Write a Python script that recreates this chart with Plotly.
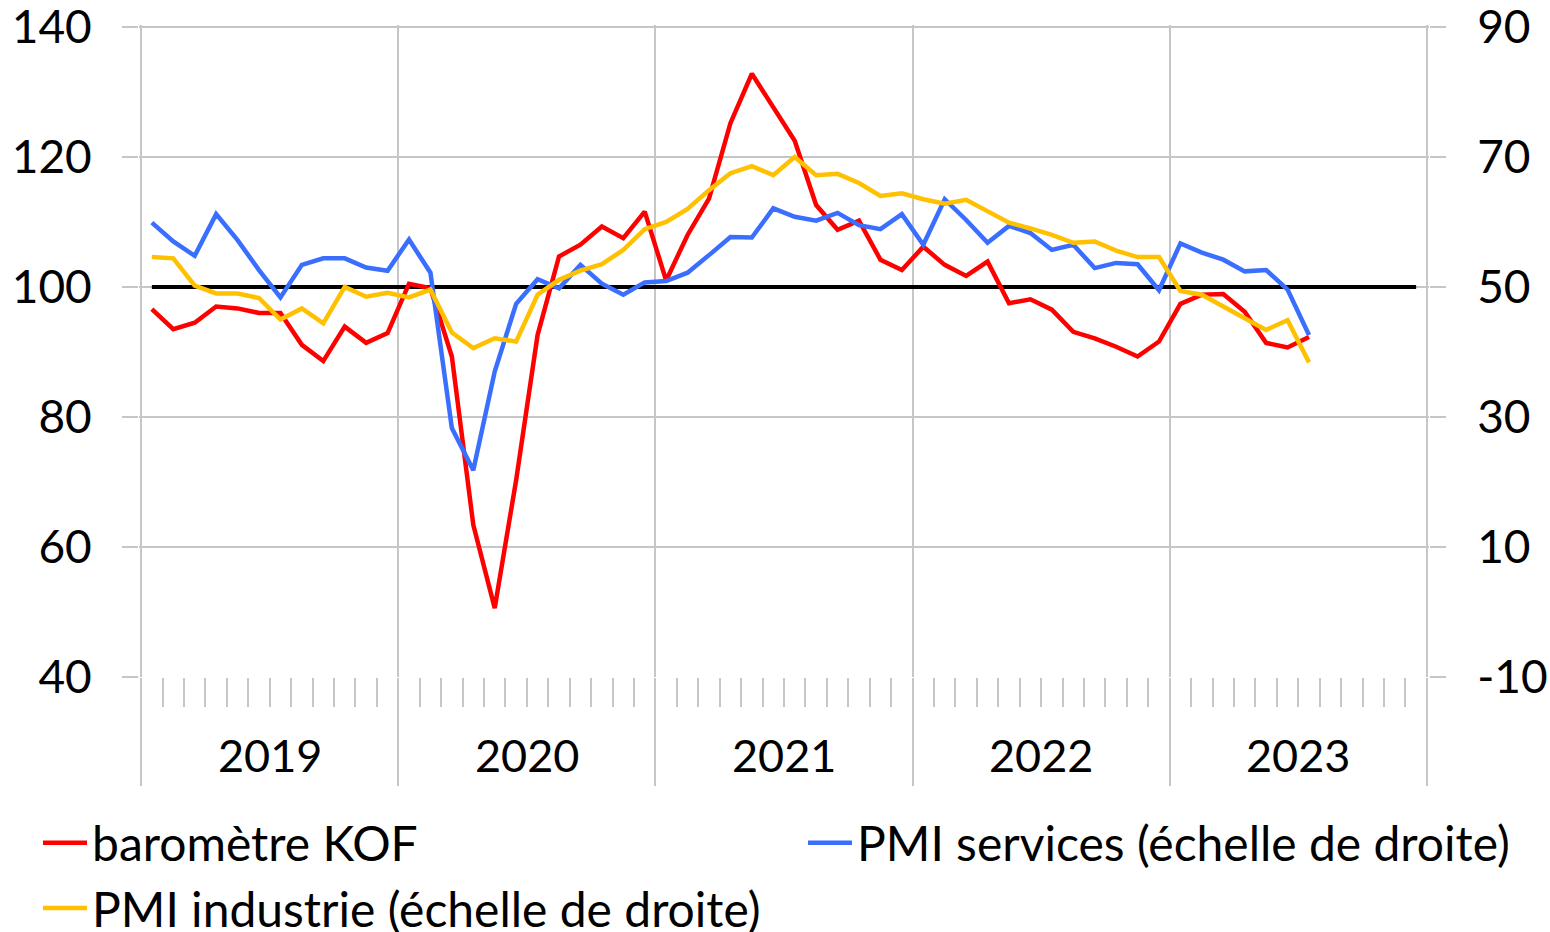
import plotly.graph_objects as go

# Monthly data, Jan 2019 .. Jul 2023
months = list(range(55))
kof = [96.6, 93.5, 94.5, 97.0, 96.7, 96.0, 96.0, 91.1, 88.6, 93.9, 91.4, 92.9,
       100.5, 99.8, 89.3, 63.4, 50.6, 70.3, 92.6, 104.7, 106.5, 109.3, 107.5, 111.6,
       101.0, 108.0, 113.6, 125.2, 132.8, 127.5, 122.5, 112.6, 108.8, 110.2, 104.2, 102.6,
       106.2, 103.4, 101.7, 103.9, 97.5, 98.1, 96.5, 93.1, 92.1, 90.8, 89.3, 91.6,
       97.4, 98.8, 98.9, 96.2, 91.4, 90.7, 92.3]
pmi_services = [59.9, 57.0, 54.8, 61.2, 57.2, 52.6, 48.4, 53.4, 54.4, 54.4, 53.0, 52.5,
                57.3, 52.2, 28.3, 21.8, 37.0, 47.4, 51.2, 49.8, 53.4, 50.5, 48.8, 50.7,
                50.9, 52.2, 54.9, 57.7, 57.6, 62.1, 60.8, 60.2, 61.4, 59.5, 58.9, 61.2,
                56.5, 63.5, 60.3, 56.8, 59.4, 58.3, 55.7, 56.5, 52.9, 53.7, 53.5, 49.5,
                56.7, 55.3, 54.2, 52.4, 52.6, 49.6, 42.6]
pmi_industrie = [54.6, 54.4, 50.2, 49.0, 49.0, 48.3, 45.0, 46.7, 44.4, 50.0, 48.5, 49.1,
                 48.4, 49.6, 43.0, 40.6, 42.1, 41.6, 48.8, 51.1, 52.5, 53.5, 55.7, 58.9,
                 60.0, 62.0, 64.9, 67.5, 68.6, 67.2, 70.0, 67.2, 67.4, 66.0, 64.0, 64.4,
                 63.5, 62.8, 63.4, 61.6, 59.9, 59.0, 58.0, 56.8, 57.0, 55.6, 54.6, 54.6,
                 49.4, 48.8, 47.0, 45.2, 43.4, 44.9, 38.4]
ref_months = list(range(60))
ref_level = [100] * 60
years = ["2019", "2020", "2021", "2022", "2023"]
year_centers = [5.5, 17.5, 29.5, 41.5, 53.5]
year_bounds = [-0.5, 11.5, 23.5, 35.5, 47.5, 59.5]
month_bounds = [b + 0.5 for b in range(-1, 59) if (b + 1) % 12 != 0]
left_ticks = [40, 60, 80, 100, 120, 140]
right_ticks = [-10, 10, 30, 50, 70, 90]
right_labels = ["-10", "10", "30", "50", "70", "90"]

FONT = "Lato"
GRID = "#C6C6C6"
TXT = "#000000"
W, H = 1550, 932

fig = go.Figure()
fig.add_trace(go.Scatter(x=ref_months, y=ref_level, mode="lines",
                         line=dict(color="black", width=4), showlegend=False,
                         hoverinfo="skip"))
fig.add_trace(go.Scatter(x=months, y=kof, mode="lines", name="baromètre KOF",
                         line=dict(color="#FF0000", width=4.5), legend="legend",
                         legendgroup="a"))
fig.add_trace(go.Scatter(x=months, y=pmi_services, mode="lines",
                         name="PMI services (échelle de droite)",
                         line=dict(color="#3A6EFF", width=4.5), yaxis="y2",
                         legend="legend2"))
fig.add_trace(go.Scatter(x=months, y=pmi_industrie, mode="lines",
                         name="PMI industrie (échelle de droite)",
                         line=dict(color="#FFC000", width=4.5), yaxis="y2",
                         legend="legend", legendgroup="b"))

for yc, lab in zip(year_centers, years):
    fig.add_annotation(x=yc, xref="x", y=-0.12, yref="paper", text=lab,
                       showarrow=False, font=dict(family=FONT, size=45, color=TXT),
                       xanchor="center", yanchor="middle")

fig.update_layout(
    width=W, height=H,
    margin=dict(l=139, r=121, t=25, b=255, autoexpand=False),
    paper_bgcolor="white", plot_bgcolor="white",
    font=dict(family=FONT, size=45, color=TXT),
    xaxis=dict(range=[-0.6, 59.6], tickmode="array", tickvals=year_bounds,
               ticktext=[""] * len(year_bounds), showgrid=True, gridcolor=GRID,
               gridwidth=2, ticks="outside", ticklen=108, tickwidth=2,
               tickcolor=GRID, showline=False, zeroline=False, automargin=False,
               minor=dict(tickmode="array", tickvals=month_bounds, ticks="outside",
                          ticklen=29, tickwidth=2, tickcolor=GRID, showgrid=False)),
    yaxis=dict(range=[40, 140.3], tickmode="array", tickvals=left_ticks,
               showgrid=True, gridcolor=GRID, gridwidth=2, ticks="outside",
               ticklen=16, tickwidth=2, tickcolor=GRID, zeroline=False,
               showline=False, ticklabelstandoff=21, automargin=False,
               ticklabeloverflow="allow",
               tickfont=dict(family=FONT, size=46, color=TXT)),
    yaxis2=dict(range=[-10, 90.3], tickmode="array", tickvals=right_ticks,
                ticktext=right_labels,
                overlaying="y", side="right", showgrid=False, ticks="outside",
                ticklen=16, tickwidth=2, tickcolor=GRID, zeroline=False,
                showline=False, ticklabelstandoff=22, automargin=False,
                ticklabeloverflow="allow",
                tickfont=dict(family=FONT, size=46, color=TXT)),
    legend=dict(orientation="v", xref="container", yref="container",
                x=38 / W, y=1 - 805 / H, xanchor="left", yanchor="top",
                font=dict(family=FONT, size=48, color=TXT), tracegroupgap=0,
                bgcolor="rgba(0,0,0,0)", itemwidth=44),
    legend2=dict(orientation="v", xref="container", yref="container",
                 x=803 / W, y=1 - 805 / H, xanchor="left", yanchor="top",
                 font=dict(family=FONT, size=48, color=TXT),
                 bgcolor="rgba(0,0,0,0)", itemwidth=44),
    showlegend=True,
)

fig.write_html("out.html", config={"displayModeBar": False},
               post_script="document.body.style.margin='0px';")
